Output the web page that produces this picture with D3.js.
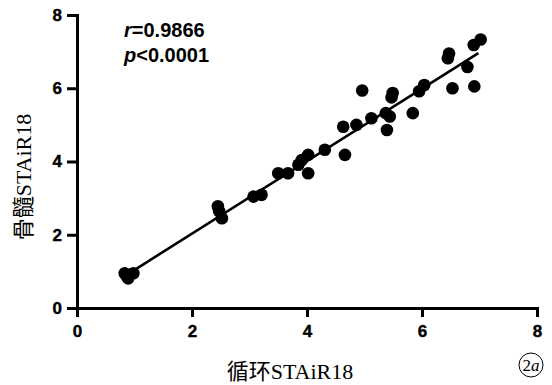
<!DOCTYPE html>
<html>
<head>
<meta charset="utf-8">
<script src="https://cdn.jsdelivr.net/npm/d3@7"></script>
<style>
html,body{margin:0;padding:0;background:#fff;}
svg{display:block;}
</style>
</head>
<body>
<svg id="chart" width="552" height="385"></svg>
<script>
// ---- data ----
const xValues = [0.83,0.89,0.98,0.86,2.45,2.47,2.52,3.07,3.21,3.50,3.67,3.85,3.91,4.02,4.02,4.31,4.66,4.63,4.86,5.12,4.96,5.37,5.39,5.49,5.47,5.44,5.84,5.95,6.04,6.47,6.45,6.53,6.79,6.91,6.90,7.02];
const yValues = [0.95,0.81,0.95,0.88,2.78,2.65,2.45,3.04,3.09,3.68,3.68,3.91,4.04,3.68,4.18,4.32,4.18,4.95,5.00,5.18,5.94,5.32,4.86,5.87,5.75,5.23,5.32,5.92,6.09,6.95,6.82,6.00,6.58,6.05,7.18,7.33];
const xTicks = [0,2,4,6,8];
const yTicks = [0,2,4,6,8];
const fitSlope = 0.99;
const fitIntercept = 0.05;
const fitRange = [0.9, 6.98];
const statR = "0.9866";
const statP = "<0.0001";
const xTitle = "循环STAiR18";
const yTitle = "骨髓STAiR18";

// ---- layout ----
const svg = d3.select("#chart");
const x = d3.scaleLinear().domain([0,8]).range([77,537]);
const y = d3.scaleLinear().domain([0,8]).range([308,15]);

const tickFont = "'Liberation Sans', Arial, sans-serif";

// x axis
const xAxis = svg.append("g").attr("transform","translate(0,308)")
  .call(d3.axisBottom(x).tickValues(xTicks).tickSize(9).tickPadding(8).tickSizeOuter(0));
// y axis
const yAxis = svg.append("g").attr("transform","translate(77,0)")
  .call(d3.axisLeft(y).tickValues(yTicks).tickSize(10).tickPadding(5).tickSizeOuter(0));

[xAxis,yAxis].forEach(g=>{
  g.select(".domain").attr("stroke","#000").attr("stroke-width",3).attr("stroke-linecap","square");
  g.selectAll(".tick line").attr("stroke","#000").attr("stroke-width",3);
  g.selectAll(".tick text").attr("fill","#000").attr("font-family",tickFont)
    .attr("font-weight","bold").attr("font-size",17).attr("stroke","#000").attr("stroke-width",0.4);
});

// regression line
svg.append("line")
  .attr("x1", x(fitRange[0])).attr("y1", y(fitSlope*fitRange[0]+fitIntercept))
  .attr("x2", x(fitRange[1])).attr("y2", y(fitSlope*fitRange[1]+fitIntercept))
  .attr("stroke","#000").attr("stroke-width",2.6);

// points
svg.append("g").selectAll("circle")
  .data(d3.zip(xValues,yValues))
  .join("circle")
  .attr("cx", d=>x(d[0])).attr("cy", d=>y(d[1]))
  .attr("r",6.3).attr("fill","#000");

// stats annotation
const ann = svg.append("g").attr("font-family",tickFont).attr("font-weight","bold").attr("font-size",20).attr("fill","#000");
const t1 = ann.append("text").attr("x",124).attr("y",37);
t1.append("tspan").attr("font-style","italic").text("r");
t1.append("tspan").text("=" + statR);
const t2 = ann.append("text").attr("x",124).attr("y",62);
t2.append("tspan").attr("font-style","italic").text("p");
t2.append("tspan").text(statP);

// axis titles
const titleFont = "'Liberation Serif', 'Noto Sans CJK SC', serif";
svg.append("text").attr("x",290).attr("y",379).attr("text-anchor","middle")
  .attr("font-family",titleFont).attr("font-size",22).attr("fill","#000").text(xTitle);
svg.append("text").attr("transform","translate(31,177) rotate(-90)").attr("text-anchor","middle")
  .attr("font-family",titleFont).attr("font-size",22).attr("fill","#000").text(yTitle);

// figure marker
svg.append("circle").attr("cx",531).attr("cy",365).attr("r",12)
  .attr("fill","none").attr("stroke","#000").attr("stroke-width",1);
const mk = svg.append("text").attr("x",531).attr("y",371).attr("text-anchor","middle")
  .attr("font-family","'Liberation Serif', serif").attr("font-size",17).attr("fill","#000");
mk.append("tspan").text("2");
mk.append("tspan").attr("font-style","italic").text("a");
</script>
</body>
</html>
